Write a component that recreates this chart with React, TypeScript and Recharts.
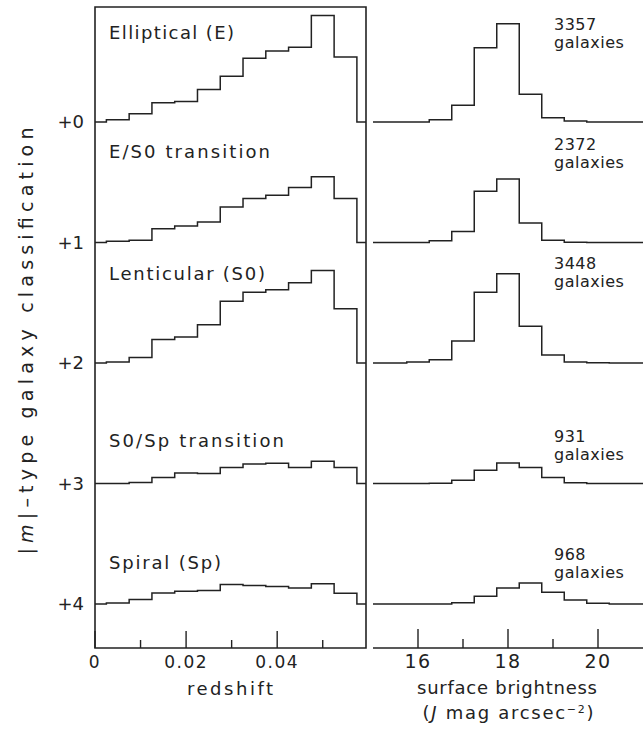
import React from 'react';
import { LineChart, Line, XAxis, YAxis, ReferenceArea } from 'recharts';

const INK = '#222';
const FONT = '"DejaVu Sans", Verdana, sans-serif';

// redshift histogram: lower bin edges (bin width 0.005)
const zEdges = [0.0025, 0.0075, 0.0125, 0.0175, 0.0225, 0.0275, 0.0325, 0.0375, 0.0425, 0.0475, 0.0525];
const zEnd = 0.0575;
const zMax = 0.0595;
const zTicks = [0, 0.01, 0.02, 0.03, 0.04, 0.05];
const zTickLabels = ['0', '', '0.02', '', '0.04', ''];

// surface brightness histogram: lower bin edges (bin width 0.5 mag)
const sbEdges = [15.75, 16.25, 16.75, 17.25, 17.75, 18.25, 18.75, 19.25, 19.75];
const sbEnd = 20.25;
const sbMin = 15;
const sbMax = 21;
const sbTicks = [16, 17, 18, 19, 20];
const sbTickLabels = ['16', '', '18', '', '20'];

// vertical offsets of the five classes
const offsets = [0, 1, 2, 3, 4];
const offsetLabels = ['+0', '+1', '+2', '+3', '+4'];
const classNames = ['Elliptical (E)', 'E/S0 transition', 'Lenticular (S0)', 'S0/Sp transition', 'Spiral (Sp)'];
const galaxyCounts = ['3357', '2372', '3448', '931', '968'];

// normalised bin heights, redshift
const ellZ = [0.02, 0.07, 0.16, 0.17, 0.27, 0.38, 0.53, 0.59, 0.62, 0.885, 0.54];
const es0Z = [0.01, 0.02, 0.115, 0.137, 0.17, 0.295, 0.365, 0.393, 0.456, 0.546, 0.365];
const lenZ = [0.008, 0.047, 0.196, 0.216, 0.317, 0.513, 0.588, 0.608, 0.667, 0.768, 0.451];
const s0spZ = [0, 0.008, 0.05, 0.087, 0.084, 0.134, 0.163, 0.168, 0.134, 0.185, 0.134];
const spZ = [0.008, 0.037, 0.092, 0.106, 0.112, 0.163, 0.154, 0.146, 0.134, 0.168, 0.09];

// normalised bin heights, surface brightness
const ellSB = [0, 0.019, 0.139, 0.617, 0.816, 0.23, 0.036, 0.008, 0];
const es0SB = [0, 0.014, 0.091, 0.426, 0.528, 0.163, 0.019, 0.003, 0];
const lenSB = [0.008, 0.027, 0.183, 0.587, 0.741, 0.305, 0.066, 0.008, 0.003];
const s0spSB = [0, 0.003, 0.028, 0.11, 0.17, 0.133, 0.05, 0.006, 0];
const spSB = [0, 0, 0.011, 0.064, 0.133, 0.174, 0.097, 0.033, 0.006];

const zHists = [ellZ, es0Z, lenZ, s0spZ, spZ];
const sbHists = [ellSB, es0SB, lenSB, s0spSB, spSB];

const Y_DOMAIN: [number, number] = [-0.955, 4.365];

function buildRows(start: number, edges: number[], end: number, stop: number, hists: number[][]) {
  const row = (x: number, vals: number[]) => {
    const r: Record<string, number> = { x };
    offsets.forEach((o, k) => {
      r['c' + k] = o - vals[k];
    });
    return r;
  };
  const zeros = offsets.map(() => 0);
  return [
    row(start, zeros),
    ...edges.map((e, i) => row(e, hists.map((h) => h[i]))),
    row(end, zeros),
    row(stop, zeros),
  ];
}

const zRows = buildRows(0, zEdges, zEnd, zMax, zHists);
const sbRows = buildRows(sbMin, sbEdges, sbEnd, sbMax, sbHists);

// inward pointing ticks with labels below the axis
const makeTick = (ticks: number[], labels: string[], majorLen: number, minorLen: number, fontSize: number) =>
  (props: any) => {
    const { x, y, payload } = props;
    const i = ticks.findIndex((t) => Math.abs(t - payload.value) < 1e-9);
    const label = i >= 0 ? labels[i] : '';
    return (
      <g>
        <line x1={x} x2={x} y1={y} y2={y - (label ? majorLen : minorLen)} stroke={INK} strokeWidth={1.4} />
        {label && (
          <text x={x} y={y + 20} textAnchor="middle" fontSize={fontSize} fill={INK} fontFamily={FONT} letterSpacing={1.5}>
            {label}
          </text>
        )}
      </g>
    );
  };

function Histograms() {
  return offsets.map((_, k) => (
    <Line
      key={k}
      dataKey={'c' + k}
      type="stepAfter"
      stroke={INK}
      strokeWidth={1.5}
      dot={false}
      activeDot={false}
      isAnimationActive={false}
    />
  ));
}

const clsBaselines = [39, 158, 280, 447, 569];
const clsWidths = [125, 161, 156, 175, 112];
const countBaselines = [30, 150, 269, 442, 560];

export default function App() {
  return (
    <div style={{ position: 'absolute', left: 0, top: 0, width: 643, height: 729, overflow: 'hidden', background: '#fff' }}>
      <div style={{ position: 'absolute', left: 0, top: 0 }}>
        <LineChart width={370} height={729} data={zRows} margin={{ top: 7, right: 4, bottom: 51, left: 0 }}>
          <XAxis
            dataKey="x"
            type="number"
            domain={[0, zMax]}
            ticks={zTicks}
            interval={0}
            height={30}
            axisLine={false}
            tickLine={false}
            tickSize={0}
            tickMargin={0}
            tick={makeTick(zTicks, zTickLabels, 17, 8, 17)}
            allowDataOverflow
          />
          <YAxis
            type="number"
            reversed
            domain={Y_DOMAIN}
            ticks={offsets}
            interval={0}
            width={95}
            axisLine={false}
            tickLine={false}
            tickSize={0}
            tickMargin={11}
            tickFormatter={(v: number) => offsetLabels[v]}
            tick={{ fontSize: 18, fill: INK, fontFamily: FONT }}
            allowDataOverflow
          />
          <ReferenceArea x1={0} x2={zMax} y1={Y_DOMAIN[0]} y2={Y_DOMAIN[1]} fill="none" stroke={INK} strokeWidth={1.6} ifOverflow="visible" />
          {Histograms()}
        </LineChart>
      </div>
      <div style={{ position: 'absolute', left: 370, top: 0 }}>
        <LineChart width={273} height={729} data={sbRows} margin={{ top: 7, right: 0, bottom: 51, left: 3 }}>
          <XAxis
            dataKey="x"
            type="number"
            domain={[sbMin, sbMax]}
            ticks={sbTicks}
            interval={0}
            height={30}
            axisLine={{ stroke: INK, strokeWidth: 1.6 }}
            tickLine={false}
            tickSize={0}
            tickMargin={0}
            tick={makeTick(sbTicks, sbTickLabels, 19, 9, 19)}
            allowDataOverflow
          />
          <XAxis xAxisId="top" orientation="top" type="number" domain={[sbMin, sbMax]} height={0} tick={false} tickLine={false} axisLine={{ stroke: INK, strokeWidth: 1.6 }} />
          <YAxis type="number" reversed domain={Y_DOMAIN} width={0} tick={false} tickLine={false} axisLine={{ stroke: INK, strokeWidth: 1.6 }} allowDataOverflow />
          {Histograms()}
        </LineChart>
      </div>
      <svg width={643} height={729} style={{ position: 'absolute', left: 0, top: 0, pointerEvents: 'none' }} fontFamily={FONT} fill={INK}>
        {classNames.map((name, k) => (
          <text key={name} x={109} y={clsBaselines[k]} fontSize={18} textLength={clsWidths[k]} lengthAdjust="spacing">
            {name}
          </text>
        ))}
        {galaxyCounts.map((n, k) => (
          <g key={n}>
            <text x={554} y={countBaselines[k]} fontSize={16} letterSpacing={0.5}>{n}</text>
            <text x={554} y={countBaselines[k] + 18} fontSize={16} letterSpacing={0.5}>galaxies</text>
          </g>
        ))}
        <text transform="translate(33,341) rotate(-90)" textAnchor="middle" fontSize={19} textLength={427} lengthAdjust="spacing">
          |<tspan fontStyle="italic">m</tspan>|–type galaxy classification
        </text>
        <text x={230} y={695} textAnchor="middle" fontSize={18} textLength={86} lengthAdjust="spacing">redshift</text>
        <text x={507} y={694} textAnchor="middle" fontSize={18} textLength={180} lengthAdjust="spacing">surface brightness</text>
        <text x={508} y={719} textAnchor="middle" fontSize={18} textLength={171} lengthAdjust="spacing">
          (<tspan fontStyle="italic">J</tspan> mag arcsec<tspan fontSize={11} dy={-6}>−2</tspan><tspan dy={6}>)</tspan>
        </text>
      </svg>
    </div>
  );
}
